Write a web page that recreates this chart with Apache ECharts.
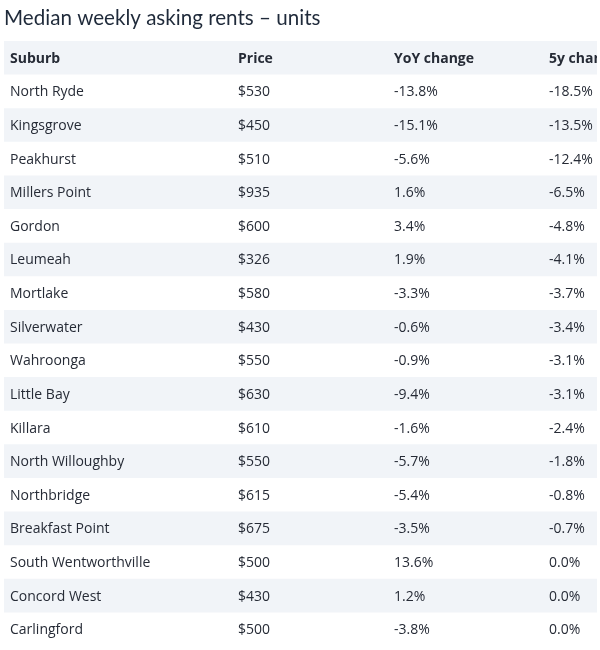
<!DOCTYPE html>
<html>
<head>
<meta charset="utf-8">
<script src="https://cdn.jsdelivr.net/npm/echarts@6/dist/echarts.min.js"></script>
<style>
html,body{margin:0;padding:0;background:#fff;}
#chart{width:600px;height:650px;}
</style>
</head>
<body>
<div id="chart"></div>
<script>
const titleText = 'Median weekly asking rents – units';
const columns = ['Suburb', 'Price', 'YoY change', '5y change'];
const suburbs = ['North Ryde','Kingsgrove','Peakhurst','Millers Point','Gordon','Leumeah','Mortlake','Silverwater','Wahroonga','Little Bay','Killara','North Willoughby','Northbridge','Breakfast Point','South Wentworthville','Concord West','Carlingford'];
const prices = [530,450,510,935,600,326,580,430,550,630,610,550,615,675,500,430,500];
const yoyChange = [-13.8,-15.1,-5.6,1.6,3.4,1.9,-3.3,-0.6,-0.9,-9.4,-1.6,-5.7,-5.4,-3.5,13.6,1.2,-3.8];
const fiveYearChange = [-18.5,-13.5,-12.4,-6.5,-4.8,-4.1,-3.7,-3.4,-3.1,-3.1,-2.4,-1.8,-0.8,-0.7,0.0,0.0,0.0];

const rowKeys = ['header'].concat(suburbs);
function cellTexts(i) {
  if (i === 0) return columns;
  const k = i - 1;
  return [suburbs[k], '$' + prices[k], yoyChange[k].toFixed(1) + '%', fiveYearChange[k].toFixed(1) + '%'];
}
const colStart = [6, 234, 390, 545];
const FONT = '"Open Sans", sans-serif';

const chart = echarts.init(document.getElementById('chart'), null, {renderer: 'canvas'});
chart.setOption({
  animation: false,
  backgroundColor: '#ffffff',
  title: {
    text: titleText, left: 4, top: 8, padding: 0,
    textStyle: {fontFamily: 'Lato, sans-serif', fontSize: 20.6, fontWeight: 'normal', color: '#1f2a3a'}
  },
  grid: {left: 4, right: 3, top: 41, bottom: 4},
  xAxis: {type: 'value', min: 0, max: 593, show: false},
  yAxis: {type: 'category', data: rowKeys, inverse: true, show: false},
  series: [{
    type: 'custom',
    clip: true,
    encode: {y: 0},
    data: rowKeys.map((k, i) => [i]),
    renderItem: function (params, api) {
      const i = api.value(0);
      const left = api.coord([0, i]);
      const right = api.coord([593, i]);
      const h = api.size([0, 1])[1];
      const children = [];
      if (i % 2 === 0) {
        children.push({type: 'rect', shape: {x: left[0], y: left[1] - h / 2, width: right[0] - left[0], height: h},
          style: {fill: '#f1f4f8'}});
      }
      const texts = cellTexts(i);
      texts.forEach((t, c) => {
        const p = api.coord([colStart[c], i]);
        children.push({type: 'text', style: {
          text: t, x: p[0], y: p[1] + 1, align: 'left', verticalAlign: 'middle',
          fontFamily: FONT, fontSize: 14, fontWeight: i === 0 ? 'bold' : 'normal',
          fill: '#262b36'
        }});
      });
      return {type: 'group', children: children};
    }
  }]
});
</script>
</body>
</html>
